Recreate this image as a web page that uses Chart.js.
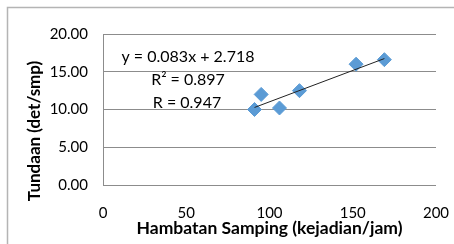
<!DOCTYPE html>
<html>
<head>
<meta charset="utf-8">
<script src="https://cdn.jsdelivr.net/npm/chart.js@4"></script>
<style>
  html, body { margin: 0; padding: 0; background: #fff; }
  #wrap { width: 454px; height: 244px; }
</style>
</head>
<body>
<div id="wrap"><canvas id="myChart"></canvas></div>
<script>
// data
var hambatan = [91, 95, 106, 118, 152, 169];
var tundaan = [10.0, 12.0, 10.2, 12.5, 16.0, 16.6];
var slope = 0.083;
var intercept = 2.718;
var eqLines = ["y = 0.083x + 2.718", "R\u00b2 = 0.897", "R = 0.947"];

var points = hambatan.map(function (x, i) { return { x: x, y: tundaan[i] }; });
var xMin = Math.min.apply(null, hambatan);
var xMax = Math.max.apply(null, hambatan);
var trend = [xMin, xMax].map(function (x) { return { x: x, y: slope * x + intercept }; });

var FONT = "Lato, 'Open Sans', sans-serif";

var extras = {
    id: "extras",
    beforeDraw: function (chart) {
        var ctx = chart.ctx;
        ctx.save();
        ctx.strokeStyle = "#b4b4b4";
        ctx.lineWidth = 1.5;
        ctx.strokeRect(7.5, 7.5, chart.width, chart.height);
        ctx.restore();
    },
    afterDraw: function (chart) {
        var ctx = chart.ctx;
        ctx.save();
        ctx.fillStyle = "#000";
        ctx.textAlign = "center";
        ctx.textBaseline = "middle";
        ctx.font = "16px " + FONT;
        ctx.fillText(eqLines[0], 188, 57);
        ctx.fillText(eqLines[1], 188, 80);
        ctx.fillText(eqLines[2], 187, 103);
        // y title
        ctx.font = "bold 17px " + FONT;
        ctx.translate(35, 131);
        ctx.rotate(-Math.PI / 2);
        ctx.fillText("Tundaan (det/smp)", 0, 0);
        ctx.restore();
    }
};

new Chart("myChart", {
    type: "scatter",
    data: {
        datasets: [{
            type: "line",
            data: trend,
            borderColor: "#222",
            borderWidth: 1,
            pointRadius: 0,
            order: 0
        }, {
            data: points,
            backgroundColor: "#5b9bd5",
            borderColor: "#5b9bd5",
            pointStyle: "rectRot",
            pointRadius: 7,
            order: 1
        }]
    },
    options: {
        responsive: true,
        maintainAspectRatio: false,
        animation: false,
        layout: { padding: { left: 0, right: 18, top: 34, bottom: 0 } },
        plugins: {
            legend: { display: false },
            tooltip: { enabled: false }
        },
        scales: {
            x: {
                min: 0, max: 200,
                ticks: { stepSize: 50, padding: 19, color: "#000", font: { family: FONT, size: 15 } },
                grid: { display: false, drawTicks: false },
                border: { display: false },
                title: {
                    display: true, text: "Hambatan Samping (kejadian/jam)", color: "#000",
                    font: { family: FONT, size: 17.5, weight: "bold" }, padding: { top: 0, bottom: 5 }
                },
                afterFit: function (s) {
                    s.height = 59;
                    s.paddingLeft = 0;
                    s.paddingRight = 0;
                }
            },
            y: {
                min: 0, max: 20,
                ticks: {
                    stepSize: 5, padding: 15, color: "#000", font: { family: FONT, size: 15 },
                    callback: function (v) { return v.toFixed(2); }
                },
                grid: { color: "#8c8c8c", drawTicks: false },
                border: { color: "#8c8c8c" },
                afterFit: function (s) { s.width = 103; }
            }
        }
    },
    plugins: [extras]
});
</script>
</body>
</html>
